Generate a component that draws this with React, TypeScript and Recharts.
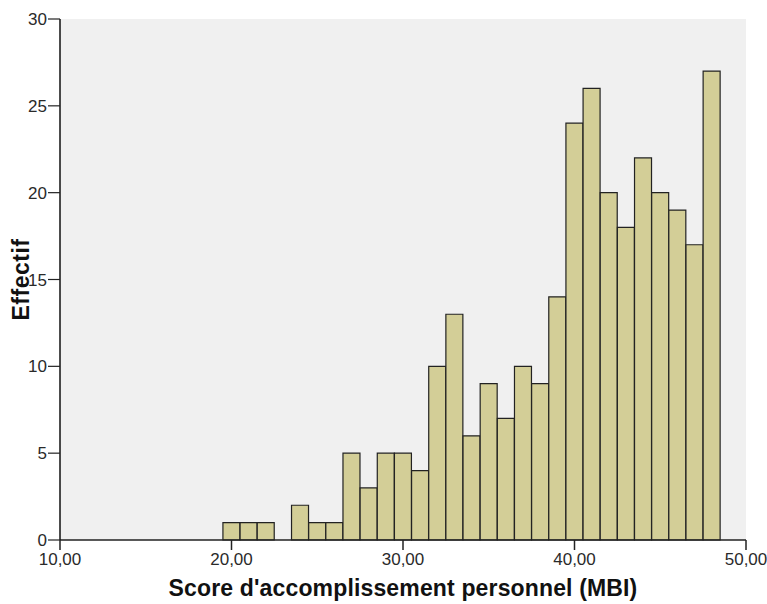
import { Bar, BarChart, CartesianGrid, Label, XAxis, YAxis } from "recharts";

// score bins (bin centres) and their counts
const scoreBins = [
  20, 21, 22, 23, 24, 25, 26, 27, 28, 29, 30, 31, 32, 33, 34, 35, 36, 37, 38,
  39, 40, 41, 42, 43, 44, 45, 46, 47, 48,
];
const effectifs = [
  1, 1, 1, 0, 2, 1, 1, 5, 3, 5, 5, 4, 10, 13, 6, 9, 7, 10, 9, 14, 24, 26, 20,
  18, 22, 20, 19, 17, 27,
];
const xTicks = [10, 20, 30, 40, 50];
const yTicks = [0, 5, 10, 15, 20, 25, 30];

const xTitle = "Score d'accomplissement personnel (MBI)";
const yTitle = "Effectif";

const data = scoreBins.map((score, i) => ({ score, count: effectifs[i] }));

const font = "'Liberation Sans', Arial, sans-serif";
const tickStyle = { fontSize: 17, fill: "#2a2a2a", fontFamily: font };

const fmt = (v: number) => v.toFixed(2).replace(".", ",");

export default function App() {
  return (
    <div style={{ position: "absolute", left: 0, top: 0, background: "#fff" }}>
      <BarChart
        width={767}
        height={604}
        data={data}
        barCategoryGap={0}
        barGap={0}
        margin={{ top: 19, right: 21, bottom: 0, left: 0 }}
      >
        <CartesianGrid horizontal={false} vertical={false} fill="#f0f0f0" />
        <XAxis
          dataKey="score"
          type="number"
          domain={[10, 50]}
          ticks={xTicks}
          tickFormatter={fmt}
          height={64}
          tickSize={10}
          tickMargin={3}
          tick={tickStyle}
          axisLine={{ stroke: "#222", strokeWidth: 1.5 }}
          tickLine={{ stroke: "#222", strokeWidth: 1.5 }}
          allowDataOverflow
        >
          <Label
            content={({ viewBox }: any) => (
              <text
                x={viewBox.x + viewBox.width / 2}
                y={viewBox.y + viewBox.height - 8}
                textAnchor="middle"
                fontFamily={font}
                fontWeight="bold"
                fontSize={23}
                letterSpacing={0.15}
                fill="#111"
              >
                {xTitle}
              </text>
            )}
          />
        </XAxis>
        <XAxis
          xAxisId="top"
          orientation="top"
          type="number"
          domain={[10, 50]}
          ticks={xTicks}
          tick={false}
          tickLine={false}
          height={0}
          axisLine={{ stroke: "#999", strokeWidth: 1.5 }}
        />
        <YAxis
          type="number"
          domain={[0, 30]}
          ticks={yTicks}
          width={60}
          tickSize={12}
          tickMargin={1}
          tick={tickStyle}
          axisLine={{ stroke: "#111", strokeWidth: 1.5 }}
          tickLine={{ stroke: "#222", strokeWidth: 1.2 }}
        >
          <Label
            content={({ viewBox }: any) => {
              const cx = 21;
              const cy = viewBox.y + viewBox.height / 2;
              return (
                <text
                  x={cx}
                  y={cy}
                  transform={`rotate(-90, ${cx}, ${cy})`}
                  textAnchor="middle"
                  dominantBaseline="central"
                  fontFamily={font}
                  fontWeight="bold"
                  fontSize={23}
                  letterSpacing={0.5}
                  fill="#111"
                >
                  {yTitle}
                </text>
              );
            }}
          />
        </YAxis>
        <YAxis
          yAxisId="right"
          orientation="right"
          type="number"
          domain={[0, 30]}
          tick={false}
          tickLine={false}
          width={0}
          axisLine={{ stroke: "#999", strokeWidth: 1.5 }}
        />
        <Bar
          dataKey="count"
          fill="#d3ce97"
          stroke="#222"
          strokeWidth={1.2}
          isAnimationActive={false}
        />
      </BarChart>
    </div>
  );
}
